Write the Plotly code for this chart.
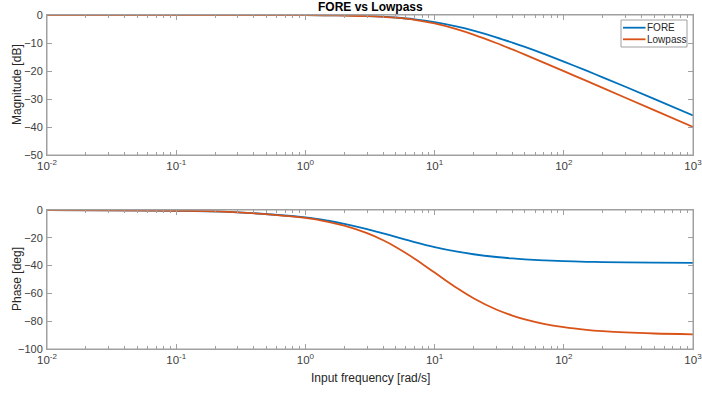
import plotly.graph_objects as go

# ---- data ----
freq = [0.01, 0.1, 0.3, 1, 1.5, 2, 3, 4, 5, 7, 10, 15, 20, 30, 40, 50, 70,
        100, 150, 200, 300, 500, 1000]
fore_mag = [0.0, 0.0, -0.004, -0.04, -0.096, -0.167, -0.368, -0.61, -0.90, -1.54,
            -2.56, -4.17, -5.60, -7.96, -9.85, -11.41, -13.88,
            -16.64, -19.89, -22.25, -25.64, -29.96, -35.90]
lp_mag = [0.0, 0.0, -0.004, -0.04, -0.097, -0.17, -0.38, -0.645, -0.97, -1.73,
          -3.01, -5.12, -6.99, -10.0, -12.30, -14.15, -16.99,
          -20.04, -23.54, -26.03, -29.55, -33.98, -40.0]
fore_phase = [-0.06, -0.57, -1.69, -5.35, -7.73, -9.91, -13.69, -16.78, -19.30, -23.04,
              -26.63, -29.98, -31.83, -33.83, -34.86, -35.50, -36.24,
              -36.81, -37.25, -37.47, -37.70, -37.87, -38.01]
lp_phase = [-0.06, -0.57, -1.72, -5.71, -8.53, -11.31, -16.70, -21.80, -26.57, -34.99,
            -45.0, -56.31, -63.43, -71.57, -75.96, -78.69, -81.87,
            -84.29, -86.19, -87.14, -88.09, -88.85, -89.43]
x_tickvals = [0.01, 0.1, 1, 10, 100, 1000]
x_ticktext = ["10<sup>-2</sup>", "10<sup>-1</sup>", "10<sup>0</sup>",
              "10<sup>1</sup>", "10<sup>2</sup>", "10<sup>3</sup>"]
mag_ticks = [0, -10, -20, -30, -40, -50]
phase_ticks = [0, -20, -40, -60, -80, -100]
names = ["FORE", "Lowpass"]
colors = ["#0072BD", "#D95319"]

W, H = 702, 394
L, R, T, B = 47, 9, 15, 45
PW, PH = W - L - R, H - T - B


def px(xp):
    return (xp - L) / PW


def py(yp):
    return (H - B - yp) / PH


fig = go.Figure()
for name, col, mag, ph in [(names[0], colors[0], fore_mag, fore_phase),
                           (names[1], colors[1], lp_mag, lp_phase)]:
    fig.add_trace(go.Scatter(x=freq, y=mag, mode="lines", name=name,
                             line=dict(color=col, width=1.8, shape="spline"),
                             xaxis="x", yaxis="y", showlegend=False))
    fig.add_trace(go.Scatter(x=freq, y=ph, mode="lines", name=name,
                             line=dict(color=col, width=1.8, shape="spline"),
                             xaxis="x2", yaxis="y2", showlegend=False))

axis_col = "#a0a0a0"
FONT = "Liberation Sans, Arial, sans-serif"
xtick_font = dict(family=FONT, size=11.5, color="#404040")
ytick_font = dict(family=FONT, size=11, color="#404040")
xcommon = dict(type="log", range=[-2, 3], tickvals=x_tickvals, ticktext=x_ticktext,
               showline=True, linecolor=axis_col, linewidth=1, mirror="ticks",
               ticks="inside", ticklen=5, tickcolor=axis_col, showgrid=False,
               zeroline=False, tickfont=xtick_font, automargin=False,
               ticklabeloverflow="allow",
               minor=dict(ticks="inside", ticklen=3, tickcolor=axis_col, dtick="D1",
                          showgrid=False))
ycommon = dict(showline=True, linecolor=axis_col, linewidth=1, mirror="ticks",
               ticks="inside", ticklen=5, tickcolor=axis_col, showgrid=False,
               zeroline=False, tickfont=ytick_font, automargin=False,
               ticklabeloverflow="allow", ticklabelstandoff=1)

top_lo = py(155)
bot_hi = py(210)

fig.update_layout(
    width=W, height=H,
    margin=dict(l=L, r=R, t=T, b=B, autoexpand=False),
    paper_bgcolor="white", plot_bgcolor="white",
    font=dict(family=FONT, size=11, color="#262626"),
    xaxis=dict(domain=[0, 1], anchor="y", **xcommon),
    yaxis=dict(domain=[top_lo, 1], anchor="x", range=[-50, 0], tickvals=mag_ticks,
               **ycommon),
    xaxis2=dict(domain=[0, 1], anchor="y2", **xcommon),
    yaxis2=dict(domain=[0, bot_hi], anchor="x2", range=[-100, 0], tickvals=phase_ticks,
                **ycommon),
    showlegend=False,
)

# axes boxes
for xr, yr in [("x domain", "y domain"), ("x2 domain", "y2 domain")]:
    fig.add_shape(type="rect", xref=xr, yref=yr, x0=0, x1=1, y0=0, y1=1,
                  line=dict(color=axis_col, width=1), layer="above")

label_font = dict(family=FONT, size=12, color="#262626")
fig.add_annotation(text="<b>FORE vs Lowpass</b>", xref="paper", yref="paper",
                   x=0.5, y=py(7), xanchor="center", yanchor="middle",
                   showarrow=False, font=dict(family=FONT, size=12, color="#000000"))
fig.add_annotation(text="Magnitude [dB]", xref="paper", yref="paper",
                   x=px(17), y=py(85), xanchor="center", yanchor="middle",
                   textangle=-90, showarrow=False, font=label_font)
fig.add_annotation(text="Phase [deg]", xref="paper", yref="paper",
                   x=px(17), y=py(279), xanchor="center", yanchor="middle",
                   textangle=-90, showarrow=False, font=label_font)
fig.add_annotation(text="Input frequency [rad/s]", xref="paper", yref="paper",
                   x=0.5, y=py(378), xanchor="center", yanchor="middle",
                   showarrow=False, font=label_font)

# legend box (drawn like MATLAB's)
fig.add_shape(type="rect", xref="paper", yref="paper",
              x0=px(621), x1=px(687), y0=py(47), y1=py(20),
              line=dict(color=axis_col, width=1), fillcolor="white", layer="above")
for i, (name, col) in enumerate(zip(names, colors)):
    yy = [27.7, 39.3][i]
    fig.add_shape(type="line", xref="paper", yref="paper",
                  x0=px(623), x1=px(645.5), y0=py(yy), y1=py(yy),
                  line=dict(color=col, width=1.8), layer="above")
    fig.add_annotation(text=name, xref="paper", yref="paper",
                       x=px(645), y=py(yy), xanchor="left", yanchor="middle",
                       showarrow=False, font=dict(family=FONT, size=10, color="#262626"))

fig.write_html("out.html")
